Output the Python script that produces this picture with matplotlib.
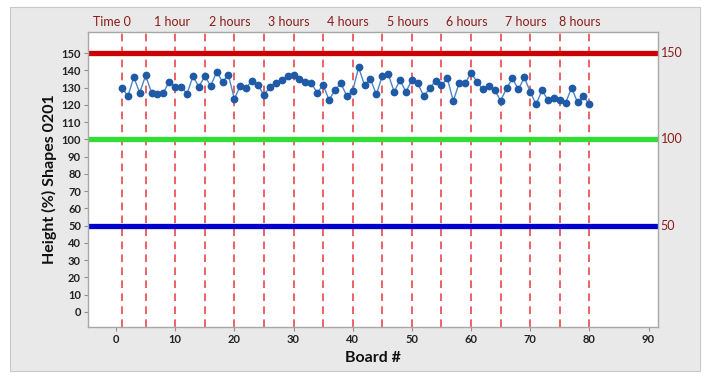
import matplotlib
matplotlib.use("Agg")
import matplotlib.pyplot as plt
from matplotlib.patches import Rectangle

# ---- data ----
boards = list(range(1, 81))
heights = [130, 125, 136, 127, 137, 127, 126.5, 127, 133.5, 130.5,
           130.5, 126.5, 136.5, 130.5, 136.5, 131, 139, 133.5, 137, 123.5,
           131, 130, 134, 131.5, 125.5, 130.5, 132.5, 134.5, 136.5, 137.5,
           135, 133.5, 132.5, 127, 131.5, 122.8, 128.5, 132.4, 125.2, 128.1,
           141.7, 131.4, 134.9, 126, 136.8, 137.8, 127.6, 134.3, 127.6, 134.3,
           132.4, 125, 129.5, 133.9, 131.4, 135.3, 122.2, 132.8, 132.4, 138.6,
           133.4, 128.9, 130.9, 128.5, 122.4, 129.5, 135.3, 128.9, 135.9, 127.6,
           120.3, 128.5, 122.8, 123.7, 122.8, 121.2, 129.9, 121.4, 125, 120.3]

ref_x = [1, 5, 10, 15, 20, 25, 30, 35, 40, 45, 50, 55, 60, 65, 70, 75, 80]
hour_labels = ["Time 0", "1 hour", "2 hours", "3 hours", "4 hours",
               "5 hours", "6 hours", "7 hours", "8 hours"]
hour_label_x = [-0.7, 9.5, 19.3, 29.2, 39.2, 49.3, 59.2, 69.2, 78.4]

ref_y = [150, 100, 50]
ref_y_colors = ["#cc0000", "#33dd33", "#0000cc"]
ref_y_labels = ["150", "100", "50"]

xticks = list(range(0, 91, 10))
yticks = list(range(0, 151, 10))

# ---- figure ----
plt.rcParams['font.family'] = ['Lato', 'DejaVu Sans']
fig = plt.figure(figsize=(7.11, 3.77), dpi=100, facecolor="white")
fig.patches.append(Rectangle((10 / 711, 1 - 371 / 377), 690 / 711, 364 / 377,
                             transform=fig.transFigure, facecolor="#e9e9e9",
                             edgecolor="#c8c8c8", lw=0.8, zorder=-10))

ax = fig.add_axes([88 / 711, 1 - 327 / 377, 570 / 711, 295 / 377])
ax.set_facecolor("white")
ax.set_xlim(-4.74, 91.6)
ax.set_ylim(-8.7, 162.2)

for s in ax.spines.values():
    s.set_color("#a8a8a8")
    s.set_linewidth(1.0)

for xv in ref_x:
    ax.axvline(xv, color="#e8373b", lw=1.1, dashes=(5, 3.5), zorder=1)

for yv, c in zip(ref_y, ref_y_colors):
    ax.axhline(yv, color=c, lw=3.8, zorder=2)

ax.plot(boards, heights, color="#4a86c8", lw=1.0, zorder=3)
ax.plot(boards, heights, 'o', color="#1f5aa6", ms=5.6, zorder=4,
        markeredgewidth=0)

ax.set_xticks(xticks)
ax.set_yticks(yticks)
ax.tick_params(axis='both', direction='out', length=3, width=0.8,
               color="#909090", labelsize=8, labelcolor="#222222", pad=2)
for lab in ax.get_xticklabels() + ax.get_yticklabels():
    lab.set_fontweight('bold')

ax.set_xlabel("Board #", fontsize=11.5, fontweight='bold', color="#111111", labelpad=4)
ax.set_ylabel("Height (%) Shapes 0201", fontsize=11.5, fontweight='bold',
              color="#111111", labelpad=3)

for xv, t in zip(hour_label_x, hour_labels):
    ax.annotate(t, xy=(xv, 1.0), xycoords=('data', 'axes fraction'),
                xytext=(0, 3), textcoords='offset points', ha='center',
                va='bottom', fontsize=9, color="#8b1a1a")

for yv, t in zip(ref_y, ref_y_labels):
    ax.annotate(t, xy=(1.0, yv), xycoords=('axes fraction', 'data'),
                xytext=(2, 0), textcoords='offset points', ha='left',
                va='center', fontsize=9, color="#8b1a1a")

fig.savefig("out.png", dpi=100, facecolor=fig.get_facecolor())
